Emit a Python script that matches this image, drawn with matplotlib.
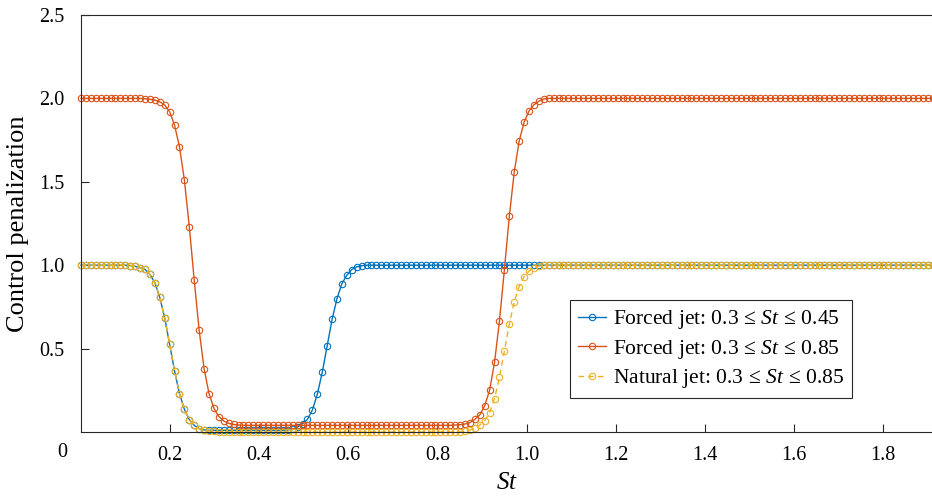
import numpy as np
import matplotlib
matplotlib.use('Agg')
import matplotlib.pyplot as plt

# Strouhal number grid
st = np.linspace(0, 2, 182)

# Control penalization per case
forced_045 = ([1.0] * 10
              + [0.998, 0.993, 0.985, 0.975, 0.945, 0.895, 0.807, 0.684,
                 0.527, 0.367, 0.23, 0.136, 0.074, 0.04, 0.02, 0.012]
              + [0.01] * 16
              + [0.012, 0.018, 0.03, 0.05, 0.076, 0.132, 0.226, 0.357,
                 0.517, 0.675, 0.8, 0.89, 0.94, 0.974, 0.99, 0.997]
              + [1.0] * 124)

forced_085 = ([2.0] * 13
              + [1.998, 1.995, 1.99, 1.98, 1.96, 1.92, 1.84, 1.71, 1.51, 1.23,
                 0.91, 0.61, 0.38, 0.23, 0.142, 0.092, 0.066, 0.052, 0.045, 0.042]
              + [0.04] * 43
              + [0.042, 0.044, 0.048, 0.056, 0.076, 0.102, 0.158, 0.251, 0.418,
                 0.666, 0.974, 1.293, 1.559, 1.744, 1.857, 1.924, 1.962, 1.983, 1.997]
              + [2.0] * 87)

natural_085 = ([1.0] * 10
               + [0.998, 0.993, 0.985, 0.975, 0.945, 0.895, 0.807, 0.684,
                  0.527, 0.367, 0.23, 0.136, 0.074, 0.04, 0.02, 0.012]
               + [0.006, 0.003]
               + [0.0] * 50
               + [0.006, 0.012, 0.022, 0.042, 0.068, 0.116, 0.2, 0.33, 0.486,
                  0.647, 0.78, 0.872, 0.932, 0.965, 0.986, 0.995, 0.999]
               + [1.0] * 87)

labels = [r'Forced jet: $0.3\,\leq\,St\,\leq\,0.45$',
          r'Forced jet: $0.3\,\leq\,St\,\leq\,0.85$',
          r'Natural jet: $0.3\,\leq\,St\,\leq\,0.85$']
colors = ['#0072BD', '#D95319', '#EDB120']
styles = ['-', '-', (0, (4, 3))]

# Fonts
plt.rcParams['font.family'] = ['Liberation Serif', 'DejaVu Serif']
plt.rcParams['mathtext.fontset'] = 'custom'
plt.rcParams['mathtext.rm'] = 'Liberation Serif'
plt.rcParams['mathtext.it'] = 'Liberation Serif:italic'

# Initialize figure
fig = plt.figure(figsize=(9.32, 4.98), dpi=100)
ax = fig.add_axes([81 / 932, 1 - 432 / 498, 1 - 81 / 932, (432 - 15) / 498])

# Plot lines
for y, lab, c, ls in zip([forced_045, forced_085, natural_085], labels, colors, styles):
    ax.plot(st, y, linestyle=ls, color=c, linewidth=1.0, marker='o', markersize=4.6,
            markerfacecolor='none', markeredgewidth=0.8, label=lab, clip_on=False)

# Axes
ax.set_xlim(0, 1.91)
ax.set_ylim(0, 2.5)
ax.set_xticks([0.2, 0.4, 0.6, 0.8, 1.0, 1.2, 1.4, 1.6, 1.8])
ax.set_xticklabels(['0.2', '0.4', '0.6', '0.8', '1.0', '1.2', '1.4', '1.6', '1.8'])
ax.set_yticks([0.5, 1.0, 1.5, 2.0, 2.5])
ax.set_yticklabels(['0.5', '1.0', '1.5', '2.0', '2.5'])
ax.tick_params(direction='in', length=6, width=0.8, colors='#262626',
               labelcolor='black', labelsize=14.5)
ax.tick_params(axis='x', pad=10)
ax.tick_params(axis='y', pad=12)
ax.spines['right'].set_visible(False)
for s in ['left', 'bottom', 'top']:
    ax.spines[s].set_color('#262626')
    ax.spines[s].set_linewidth(0.8)
fig.text(62 / 932, 1 - 452 / 498, '0', ha='center', va='center', fontsize=14.5)

ax.set_xlabel(r'$St$', fontsize=18, labelpad=5)
ax.set_ylabel('Control penalization', fontsize=19, labelpad=7)

# Legend
leg = ax.legend(loc='upper left', bbox_to_anchor=(570 / 932, 1 - 300 / 498),
                bbox_transform=fig.transFigure, borderaxespad=0, fontsize=15.5,
                handlelength=1.3, handletextpad=0.3, labelspacing=0.3,
                borderpad=0.38, fancybox=False, framealpha=1)
leg.get_frame().set_edgecolor('#262626')
leg.get_frame().set_linewidth(0.8)

fig.savefig('out.png', dpi=100)
